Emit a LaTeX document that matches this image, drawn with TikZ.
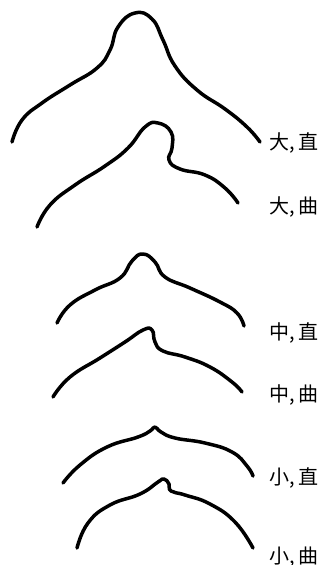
\documentclass[tikz,border=0pt]{standalone}
\usepackage{fontspec}
\newfontfamily\cjk{Noto Sans CJK SC}
\usepackage{tikz}

\begin{document}
\begin{tikzpicture}[x=1pt,y=-1pt,
		outline/.style={line width=3.5pt,line cap=round,line join=round},
		tag/.style={anchor=west,inner sep=0pt,font=\cjk\fontsize{20}{20}\selectfont}]
		\useasboundingbox (0,0) rectangle (323,565);

		% Large, straight
		\draw[outline] plot[smooth,tension=0.8] coordinates {(12,142) (22,120) (42,103) (70,85) (97,68) (110,50) (118,27) (135,13) (152,19) (163,40) (175,66) (197,90) (225,109) (247,127) (260,142)};
		\node[tag] (bigstraight) at (269,143) {大,\,直};

		% Large, curved
		\draw[outline] plot[smooth,tension=0.8] coordinates {(37,227) (50,205) (75,185) (105,166) (128,148) (145,127) (158,123) (171,132) (172,148) (169,160) (180,169) (205,175) (225,188) (238,203)};
		\node[tag] (bigcurved) at (269,207) {大,\,曲};

		% Medium, straight
		\draw[outline] plot[smooth,tension=0.8] coordinates {(57,323) (70,305) (95,290) (120,278) (132,261) (143,254) (155,262) (165,277) (190,288) (220,302) (237,313) (244,326)};
		\node[tag] (midstraight) at (269,333) {中,\,直};

		% Medium, curved
		\draw[outline] plot[smooth,tension=0.8] coordinates {(53,397) (70,377) (100,358) (125,342) (143,330) (152,330) (155,342) (163,351) (185,357) (210,367) (232,382) (242,392)};
		\node[tag] (midcurved) at (269,395) {中,\,曲};

		% Small, straight
		\draw[outline] plot[smooth,tension=0.8] coordinates {(63,483) (80,465) (107,447) (138,437) (150,431) (155,427) (161,432) (175,438) (205,443) (232,452) (247,466) (253,476)};
		\node[tag] (smallstraight) at (269,478) {小,\,直};

		% Small, curved
		\draw[outline] plot[smooth,tension=0.8] coordinates {(77,548) (88,523) (110,505) (140,494) (158,482) (164,479) (169,484) (171,491) (185,495) (210,504) (235,522) (253,548)};
		\node[tag] (smallcurved) at (269,557) {小,\,曲};
	\end{tikzpicture}
\end{document}
